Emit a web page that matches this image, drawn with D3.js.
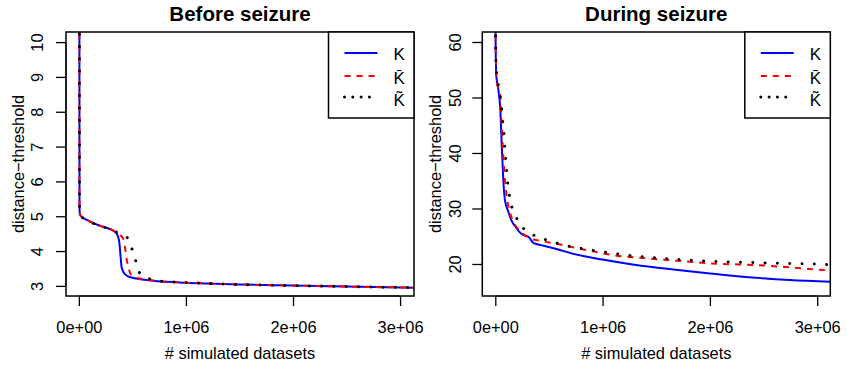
<!DOCTYPE html>
<html><head><meta charset="utf-8">
<script src="https://cdn.jsdelivr.net/npm/d3@7"></script>
<style>body{margin:0;background:#fff}</style>
</head><body>
<svg id="c" width="847" height="365" xmlns="http://www.w3.org/2000/svg"></svg>
<script>
// ---------- DATA ----------
const panelTitles = ["Before seizure", "During seizure"];
const seriesNames = ["K", "K\u0304", "K\u0303"];
const xTickValues = [0, 1e6, 2e6, 3e6];
const xTickLabels = ["0e+00", "1e+06", "2e+06", "3e+06"];
const yTicksBefore = [3, 4, 5, 6, 7, 8, 9, 10];
const yTicksDuring = [20, 30, 40, 50, 60];

// Before seizure
const beforeKx = [0.005e6, 0.006e6, 0.01e6, 0.03e6, 0.06e6, 0.134e6, 0.243e6, 0.30e6, 0.352e6, 0.377e6, 0.39e6, 0.40e6, 0.43e6, 0.49e6, 0.63e6, 0.94e6, 1.2e6, 1.5e6, 2.0e6, 2.5e6, 3.13e6];
const beforeKy = [12, 5.3, 5.05, 4.97, 4.92, 4.80, 4.68, 4.62, 4.51, 4.27, 3.84, 3.52, 3.34, 3.24, 3.17, 3.10, 3.07, 3.04, 3.01, 2.98, 2.95];
const beforeKbarX = [0.005e6, 0.006e6, 0.01e6, 0.03e6, 0.06e6, 0.134e6, 0.243e6, 0.30e6, 0.352e6, 0.38e6, 0.40e6, 0.415e6, 0.43e6, 0.445e6, 0.461e6, 0.49e6, 0.53e6, 0.57e6, 0.70e6, 0.94e6, 1.2e6, 1.5e6, 2.0e6, 2.5e6, 3.13e6];
const beforeKbarY = [12, 5.3, 5.05, 4.97, 4.92, 4.80, 4.68, 4.62, 4.53, 4.46, 4.42, 4.35, 4.13, 3.80, 3.55, 3.31, 3.25, 3.21, 3.15, 3.10, 3.07, 3.04, 3.01, 2.98, 2.95];
const beforeKtilX = [0.005e6, 0.006e6, 0.01e6, 0.03e6, 0.06e6, 0.134e6, 0.243e6, 0.30e6, 0.352e6, 0.42e6, 0.461e6, 0.50e6, 0.533e6, 0.57e6, 0.62e6, 0.673e6, 0.79e6, 1.0e6, 1.2e6, 1.5e6, 2.0e6, 2.5e6, 3.13e6];
const beforeKtilY = [12, 5.3, 5.05, 4.97, 4.92, 4.80, 4.68, 4.62, 4.54, 4.45, 4.35, 4.03, 3.70, 3.36, 3.25, 3.19, 3.13, 3.10, 3.07, 3.04, 3.01, 2.98, 2.95];

// During seizure
const duringKx = [0.0, 0.003e6, 0.01e6, 0.025e6, 0.047e6, 0.062e6, 0.075e6, 0.09e6, 0.12e6, 0.149e6, 0.2e6, 0.246e6, 0.28e6, 0.308e6, 0.33e6, 0.354e6, 0.45e6, 0.57e6, 0.755e6, 1.0e6, 1.31e6, 1.66e6, 2.0e6, 2.43e6, 2.74e6, 3.13e6];
const duringKy = [70, 60, 53.8, 51.9, 47.7, 40.5, 35.1, 31.5, 29.5, 27.9, 26.4, 25.4, 25.1, 24.9, 24.4, 23.8, 23.3, 22.7, 21.7, 20.8, 19.8, 19.0, 18.3, 17.5, 17.1, 16.8];
const duringKbarX = [0.0, 0.003e6, 0.012e6, 0.03e6, 0.047e6, 0.06e6, 0.07e6, 0.081e6, 0.103e6, 0.14e6, 0.196e6, 0.23e6, 0.323e6, 0.417e6, 0.634e6, 0.852e6, 1.1e6, 1.41e6, 1.69e6, 2.0e6, 2.43e6, 2.74e6, 3.08e6, 3.13e6];
const duringKbarY = [70, 60, 53, 51.5, 50.1, 45, 41, 37.5, 32.7, 29.1, 26.7, 26.0, 24.6, 24.2, 23.4, 22.5, 21.6, 21.0, 20.6, 20.1, 19.8, 19.4, 18.9, 18.85];
const duringKtilX = [0.0, 0.003e6, 0.01e6, 0.03e6, 0.041e6, 0.056e6, 0.065e6, 0.078e6, 0.085e6, 0.093e6, 0.103e6, 0.112e6, 0.125e6, 0.146e6, 0.186e6, 0.242e6, 0.33e6, 0.438e6, 0.547e6, 0.662e6, 0.774e6, 1.0e6, 1.23e6, 1.57e6, 2.0e6, 2.5e6, 3.08e6, 3.13e6];
const duringKtilY = [70, 60, 55, 52, 50.9, 48.6, 46.4, 44.3, 42, 39.8, 37.5, 35.3, 33.2, 30.9, 28.8, 26.9, 25.5, 24.6, 23.9, 23.3, 22.9, 22.2, 21.6, 21.0, 20.5, 20.2, 19.9, 19.85];

// ---------- LAYOUT / STYLE ----------
const FONT = "'Liberation Sans', Arial, Helvetica, sans-serif";
const styles = [
  {color: "#0000ff", width: 2, dash: null, cap: "butt", legDash: null},
  {color: "#ff0000", width: 2, dash: "6 6", cap: "butt", legDash: "6 6"},
  {color: "#000000", width: 3, dash: "0.01 12.3", cap: "round", legDash: "0.01 8.3"}
];

const panels = [
  {title: panelTitles[0], left: 66, right: 414, xDom: [-0.12e6, 3.13e6], yDom: [2.71, 10.29], yTicks: yTicksBefore,
   series: [[beforeKx, beforeKy], [beforeKbarX, beforeKbarY], [beforeKtilX, beforeKtilY]], yLabX: 24, yTickX: 43},
  {title: panelTitles[1], left: 482.3, right: 830.3, xDom: [-0.121e6, 3.122e6], yDom: [14.23, 61.8], yTicks: yTicksDuring,
   series: [[duringKx, duringKy], [duringKbarX, duringKbarY], [duringKtilX, duringKtilY]], yLabX: 441, yTickX: 461}
];
const plotTop = 32, plotBottom = 296;

const svg = d3.select("#c");
svg.append("rect").attr("width", 847).attr("height", 365).attr("fill", "#fff");

panels.forEach((p, i) => {
  const x = d3.scaleLinear().domain(p.xDom).range([p.left, p.right]);
  const y = d3.scaleLinear().domain(p.yDom).range([plotBottom, plotTop]);
  const g = svg.append("g");

  const clipId = "clip" + i;
  svg.append("clipPath").attr("id", clipId).append("rect")
    .attr("x", p.left).attr("y", plotTop).attr("width", p.right - p.left).attr("height", plotBottom - plotTop);

  // lines
  const line = d3.line().x(d => x(d[0])).y(d => y(d[1])).curve(d3.curveMonotoneX);
  const lg = g.append("g").attr("clip-path", `url(#${clipId})`);
  p.series.forEach((s, k) => {
    const data = s[0].map((v, j) => [v, s[1][j]]);
    const st = styles[k];
    lg.append("path").datum(data).attr("d", line)
      .attr("fill", "none").attr("stroke", st.color).attr("stroke-width", st.width)
      .attr("stroke-linecap", st.cap).attr("stroke-linejoin", "round")
      .attr("stroke-dasharray", st.dash);
  });

  // x axis
  const xa = g.append("g").attr("transform", `translate(0,${plotBottom})`)
    .call(d3.axisBottom(x).tickValues(xTickValues).tickFormat((d, j) => xTickLabels[j]).tickSize(10).tickPadding(0));
  xa.select(".domain").attr("d", `M${x(xTickValues[0])},0H${x(xTickValues[xTickValues.length - 1])}`).attr("stroke", "#000").attr("stroke-width", 1);
  xa.selectAll(".tick line").attr("stroke", "#000").attr("stroke-width", 1.3);
  xa.selectAll(".tick text").attr("font-family", FONT).attr("font-size", 16.4).attr("fill", "#000")
    .attr("y", 36.5).attr("dy", null);

  // y axis
  const ya = g.append("g").attr("transform", `translate(${p.left},0)`)
    .call(d3.axisLeft(y).tickValues(p.yTicks).tickFormat(d3.format("d")).tickSize(10));
  ya.select(".domain").attr("d", `M0,${y(p.yTicks[0])}V${y(p.yTicks[p.yTicks.length - 1])}`).attr("stroke", "#000");
  ya.selectAll(".tick line").attr("stroke", "#000").attr("stroke-width", 1.3);
  ya.selectAll(".tick text").attr("font-family", FONT).attr("font-size", 16.4).attr("fill", "#000")
    .attr("x", null).attr("dy", null).attr("text-anchor", "middle")
    .attr("transform", `translate(${p.yTickX - p.left},0) rotate(-90)`);

  // box
  g.append("rect").attr("x", p.left).attr("y", plotTop).attr("width", p.right - p.left).attr("height", plotBottom - plotTop)
    .attr("fill", "none").attr("stroke", "#000").attr("stroke-width", 1.5);

  // title
  g.append("text").attr("x", (p.left + p.right) / 2).attr("y", 21).attr("text-anchor", "middle")
    .attr("font-family", FONT).attr("font-weight", "bold").attr("font-size", 20.5).text(p.title);

  // axis labels
  g.append("text").attr("x", (p.left + p.right) / 2).attr("y", 359).attr("text-anchor", "middle")
    .attr("font-family", FONT).attr("font-size", 16.4).text("# simulated datasets");
  g.append("text").attr("transform", `translate(${p.yLabX},${(plotTop + plotBottom) / 2}) rotate(-90)`).attr("text-anchor", "middle")
    .attr("font-family", FONT).attr("font-size", 16.4).text("distance\u2212threshold");

  // legend
  const lw = 85.5, lh = 86;
  const lx = p.right - lw;
  const leg = g.append("g");
  leg.append("rect").attr("x", lx).attr("y", plotTop).attr("width", lw).attr("height", lh)
    .attr("fill", "#fff").attr("stroke", "#000").attr("stroke-width", 1.5);
  const rowsY = [53, 76, 97];
  const textBase = [60, 83.5, 106];
  seriesNames.forEach((nm, k) => {
    const st = styles[k];
    leg.append("line").attr("x1", lx + 16).attr("x2", lx + 49).attr("y1", rowsY[k]).attr("y2", rowsY[k])
      .attr("stroke", st.color).attr("stroke-width", st.width).attr("stroke-linecap", st.cap)
      .attr("stroke-dasharray", st.legDash);
    leg.append("text").attr("x", lx + 65).attr("y", textBase[k]).attr("font-family", FONT)
      .attr("font-size", 17).text(nm);
  });
});
</script>
</body></html>
